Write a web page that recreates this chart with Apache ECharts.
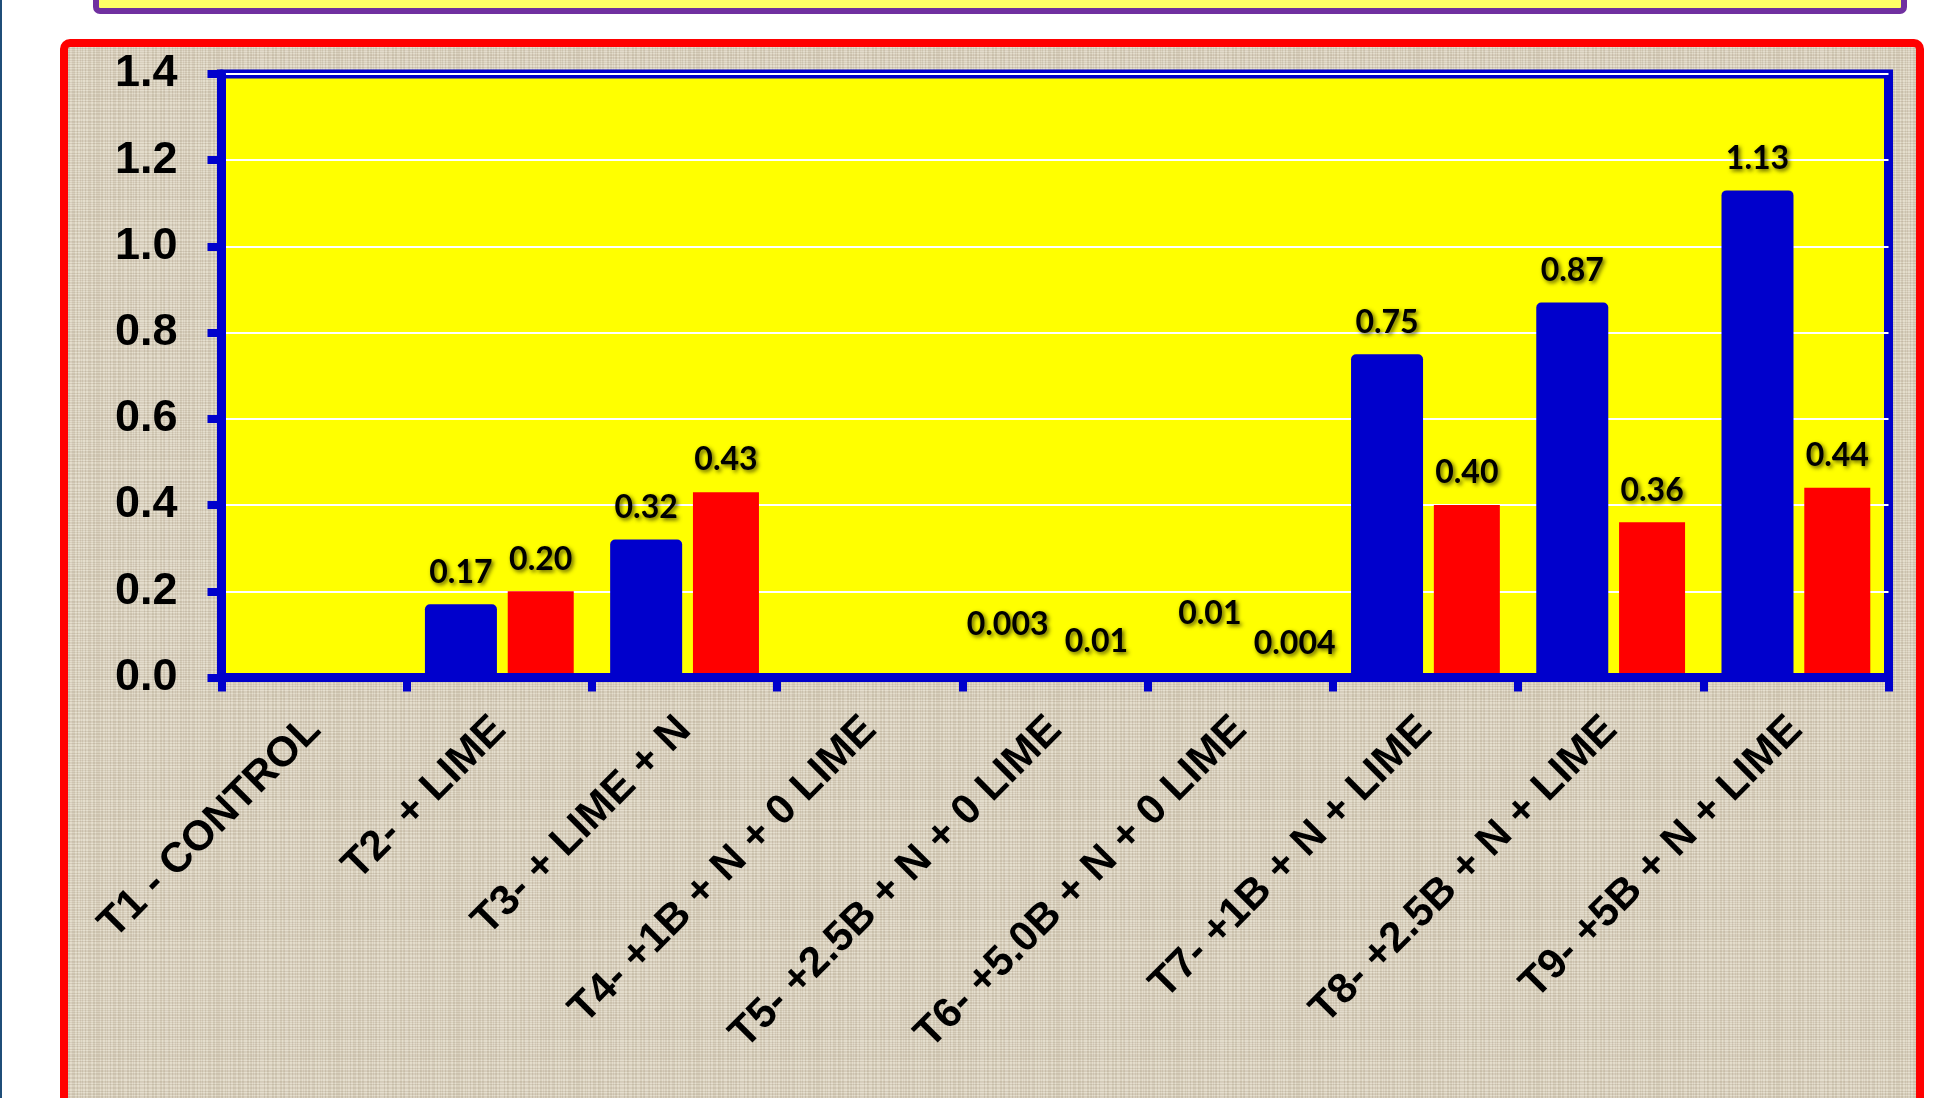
<!DOCTYPE html>
<html>
<head>
<meta charset="utf-8">
<title>Boron and lime treatments</title>
<script src="https://cdn.jsdelivr.net/npm/echarts@6/dist/echarts.min.js"></script>
<style>
  html, body { margin: 0; padding: 0; background: #ffffff; }
  #chart { width: 1959px; height: 1098px; }
</style>
</head>
<body>
<div id="chart"></div>
<script>
// Treatments on the category axis
const categories = [
  'T1 - CONTROL',
  'T2- + LIME',
  'T3- + LIME + N',
  'T4- +1B + N + 0 LIME',
  'T5- +2.5B + N + 0 LIME',
  'T6- +5.0B + N + 0 LIME',
  'T7- +1B + N + LIME',
  'T8- +2.5B + N + LIME',
  'T9- +5B + N + LIME'
];

// Two measured series per treatment (blue / red bars)
const blueValues = [0, 0.17, 0.32, 0, 0.003, 0.01, 0.75, 0.87, 1.13];
const redValues  = [0, 0.20, 0.43, 0, 0.01, 0.004, 0.40, 0.36, 0.44];

// Value axis ticks
const yTicks = [0, 0.2, 0.4, 0.6, 0.8, 1.0, 1.2, 1.4];

// Small nudges for crowded labels near the baseline: index -> [dx, dy]
const blueLabelNudge = { 4: [-9, -20], 5: [8, -28] };
const redLabelNudge = { 5: [13, 0] };

function fmt(v) {
  if (!v) return '';
  return v < 0.01 ? v.toFixed(3) : v.toFixed(2);
}

function buildData(values, nudges) {
  return values.map((v, i) => {
    const item = { value: v };
    if (nudges[i]) item.label = { offset: nudges[i] };
    return item;
  });
}

// Woven linen texture for the chart backdrop
function linenTexture() {
  const size = 120;
  const c = document.createElement('canvas');
  c.width = size; c.height = size;
  const g = c.getContext('2d');
  g.fillStyle = '#ddd4c2';
  g.fillRect(0, 0, size, size);
  for (let x = 0; x < size; x++) {
    const a = 0.10 + 0.09 * Math.sin(x * 1.9) * Math.cos(x * 0.37);
    g.fillStyle = a > 0.1 ? 'rgba(255,253,245,' + a.toFixed(3) + ')' : 'rgba(150,135,110,' + (0.2 - a).toFixed(3) + ')';
    g.fillRect(x, 0, 1, size);
  }
  for (let y = 0; y < size; y++) {
    const a = 0.09 + 0.08 * Math.cos(y * 2.3) * Math.sin(y * 0.29 + 1);
    g.fillStyle = a > 0.09 ? 'rgba(255,252,240,' + a.toFixed(3) + ')' : 'rgba(140,125,100,' + (0.18 - a).toFixed(3) + ')';
    g.fillRect(0, y, size, 1);
  }
  return c;
}

const chart = echarts.init(document.getElementById('chart'), null, { renderer: 'canvas' });

const BLUE = '#0000cc';
const labelStyle = {
  show: true,
  position: 'top',
  distance: 16,
  fontFamily: 'Lato',
  fontWeight: 'bold',
  fontSize: 32,
  color: '#000000',
  textShadowColor: 'rgba(50,50,0,0.8)',
  textShadowBlur: 4,
  textShadowOffsetX: 2,
  textShadowOffsetY: 2,
  formatter: p => fmt(p.value)
};

chart.setOption({
  backgroundColor: '#ffffff',
  animation: false,
  graphic: [
    { type: 'rect', z: -10, silent: true, shape: { x: 0, y: 0, width: 2, height: 1098 }, style: { fill: '#1f4e79' } },
    { type: 'rect', z: -10, silent: true, shape: { x: 96, y: -40, width: 1808, height: 51, r: 4 },
      style: { fill: '#ffff66', stroke: '#7030a0', lineWidth: 6 } },
    { type: 'rect', z: -10, silent: true, shape: { x: 64, y: 43, width: 1856, height: 1150, r: 6 },
      style: { fill: { image: linenTexture(), repeat: 'repeat' }, stroke: '#ff0000', lineWidth: 8 } }
  ],
  grid: {
    left: 221.5, right: 70.5, top: 74, bottom: 420.5,
    show: true,
    backgroundColor: '#ffff00',
    borderColor: BLUE,
    borderWidth: 9
  },
  xAxis: {
    type: 'category',
    data: categories,
    boundaryGap: true,
    z: 5,
    axisLine: { show: true, lineStyle: { color: BLUE, width: 9 } },
    axisTick: { show: true, alignWithLabel: false, length: 14, lineStyle: { color: BLUE, width: 8 } },
    axisLabel: {
      rotate: 45,
      interval: 0,
      margin: 46,
      fontFamily: 'Liberation Sans, Arial, sans-serif',
      fontWeight: 'bold',
      fontSize: 42,
      color: '#000000'
    },
    splitLine: { show: false }
  },
  yAxis: {
    type: 'value',
    min: yTicks[0],
    max: yTicks[yTicks.length - 1],
    interval: 0.2,
    axisLine: { show: true, lineStyle: { color: BLUE, width: 9 } },
    axisTick: { show: true, length: 14, lineStyle: { color: BLUE, width: 8 } },
    axisLabel: {
      margin: 44,
      fontFamily: 'Liberation Sans, Arial, sans-serif',
      fontWeight: 'bold',
      fontSize: 45,
      color: '#000000',
      formatter: v => v.toFixed(1)
    },
    splitLine: { show: true, lineStyle: { color: '#ffffff', width: 2 } }
  },
  series: [
    {
      type: 'bar',
      name: 'blue',
      data: buildData(blueValues, blueLabelNudge),
      barWidth: 72,
      barGap: '15%',
      itemStyle: { color: BLUE, borderRadius: [5, 5, 0, 0] },
      label: labelStyle,
      z: 3
    },
    {
      type: 'bar',
      name: 'red',
      data: buildData(redValues, redLabelNudge),
      barWidth: 66,
      barGap: '15%',
      itemStyle: { color: '#ff0000' },
      label: labelStyle,
      z: 3
    }
  ]
});
</script>
</body>
</html>
